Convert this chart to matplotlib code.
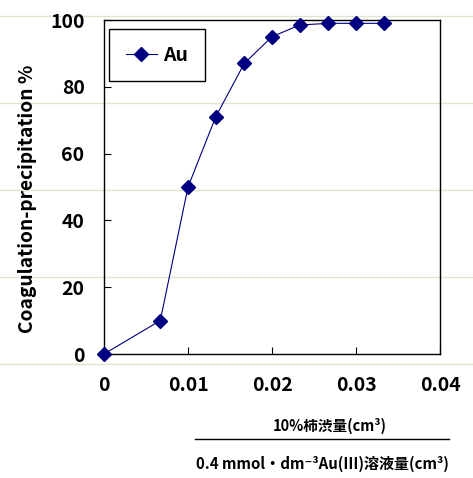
import matplotlib
matplotlib.use("Agg")
import matplotlib.pyplot as plt
from matplotlib.lines import Line2D

plt.rcParams['font.family'] = ['Noto Sans CJK JP', 'DejaVu Sans']
plt.rcParams['font.weight'] = 'bold'

# coagulation-precipitation of Au vs. added volume
volume = [0, 0.0067, 0.01, 0.0133, 0.0167, 0.02, 0.0233, 0.0267, 0.03, 0.0333]
au_pct = [0, 10, 50, 71, 87, 95, 98.5, 99, 99, 99]
xticks = [0, 0.01, 0.02, 0.03, 0.04]
xtick_labels = ['0', '0.01', '0.02', '0.03', '0.04']
yticks = [0, 20, 40, 60, 80, 100]

W, H = 473, 478
fig = plt.figure(figsize=(W / 100, H / 100), dpi=100)

# faint ruled lines across the page
for yp in [16, 103, 190, 277, 364]:
    fig.add_artist(Line2D([0, 1], [1 - yp / H] * 2, transform=fig.transFigure,
                          color='#dfe6cf', lw=1, zorder=-1))

ax = fig.add_axes([104 / W, 1 - 354 / H, (440 - 104) / W, (354 - 20) / H])
ax.patch.set_alpha(0)
ax.plot(volume, au_pct, color='#000080', lw=0.8, marker='D', markersize=7,
        label='Au', clip_on=False, zorder=3)

ax.set_xlim(0, 0.04)
ax.set_ylim(0, 100)
ax.set_xticks(xticks)
ax.set_xticklabels(xtick_labels)
ax.set_yticks(yticks)
ax.tick_params(direction='in', length=5, width=0.8, labelsize=14)
ax.tick_params(axis='x', pad=16)
ax.tick_params(axis='y', pad=14)
for s in ax.spines.values():
    s.set_linewidth(1)
    s.set_color('black')

ax.set_ylabel('Coagulation-precipitation %', fontsize=13.8, fontweight='bold')
ax.yaxis.set_label_coords(-0.2, 0.464)

leg = ax.legend(loc='upper left', bbox_to_anchor=(0.015, 0.973), fontsize=14,
                fancybox=False, edgecolor='black', framealpha=1,
                handlelength=1.6, borderpad=0.85, handletextpad=0.35,
                borderaxespad=0)
leg.get_frame().set_linewidth(1)

fig.text(330 / W, 1 - 426 / H, '10%柿渋量(cm³)', ha='center', va='center',
         fontsize=10.5, fontweight='bold')
fig.add_artist(Line2D([195 / W, 449 / W], [1 - 439 / H] * 2,
                      transform=fig.transFigure, color='black', lw=1))
fig.text(322 / W, 1 - 464 / H, '0.4 mmol・dm⁻³Au(Ⅲ)溶液量(cm³)', ha='center',
         va='center', fontsize=10.8, fontweight='bold')

fig.savefig('out.png', dpi=100)
